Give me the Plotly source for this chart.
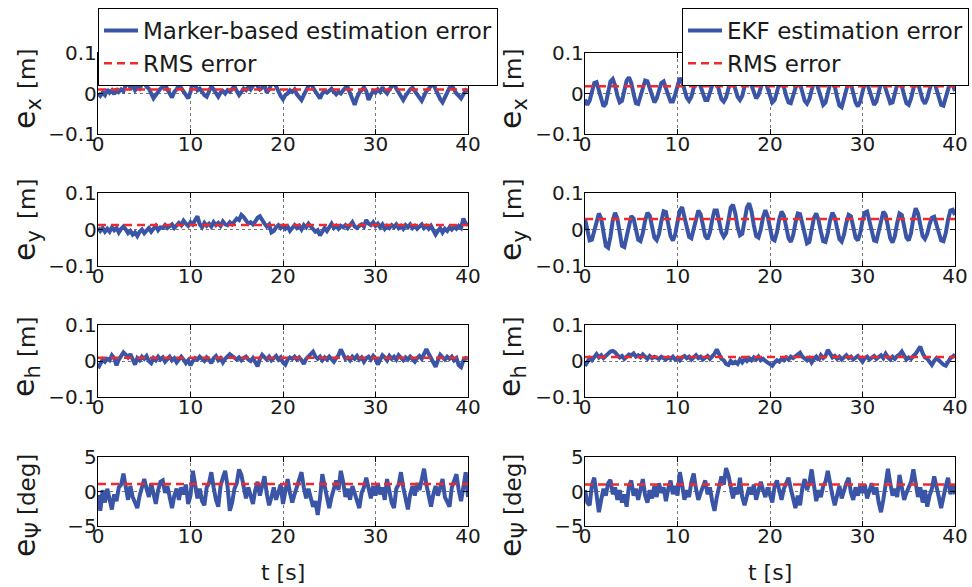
import plotly.graph_objects as go
from plotly.subplots import make_subplots

# time axis [s], sampled every 0.25 s
t = [i * 0.25 for i in range(161)]

# ---------------- Marker-based estimation errors ----------------
ex_marker = [
    0.000, -0.006, 0.002, -0.004, 0.010, 0.002, 0.008, -0.002,
    0.012, 0.004, 0.010, 0.006, 0.020, 0.026, 0.014, 0.018,
    0.008, 0.016, 0.012, 0.024, 0.030, 0.016, 0.012, 0.002,
    -0.012, -0.004, 0.006, 0.012, 0.016, 0.022, 0.010, -0.002,
    -0.010, 0.004, 0.010, 0.022, 0.014, 0.006, -0.004, -0.012,
    0.004, 0.030, 0.020, 0.008, 0.012, 0.002, -0.004, -0.008,
    0.006, 0.018, 0.010, 0.002, -0.008, 0.002, 0.006, 0.000,
    0.008, 0.004, 0.012, 0.018, 0.006, -0.004, 0.004, 0.012,
    0.008, 0.016, 0.010, 0.020, 0.028, 0.018, 0.010, 0.014,
    0.020, 0.002, 0.010, 0.024, 0.030, 0.018, 0.004, -0.006,
    -0.014, -0.004, 0.000, 0.008, 0.004, 0.010, -0.002, -0.010,
    -0.016, -0.004, 0.008, 0.016, 0.030, 0.014, 0.006, -0.004,
    -0.012, 0.000, 0.006, 0.002, 0.008, 0.012, 0.004, -0.002,
    0.004, 0.000, 0.008, 0.014, 0.015, 0.002, -0.014, -0.028,
    -0.010, 0.002, 0.008, 0.015, 0.006, -0.016, -0.004, 0.006,
    0.002, 0.010, 0.004, 0.015, 0.006, 0.000, 0.010, 0.018,
    0.025, 0.012, 0.002, -0.008, -0.016, -0.006, 0.004, 0.010,
    0.014, 0.006, -0.004, -0.010, -0.018, -0.006, 0.006, 0.012,
    0.020, 0.025, 0.010, -0.004, -0.014, -0.022, -0.008, 0.006,
    0.014, 0.020, 0.008, 0.000, -0.006, -0.012, -0.002, 0.008,
    0.005,
]
ey_marker = [
    0.005, -0.004, 0.004, -0.006, 0.002, -0.006, 0.006, -0.002,
    0.004, -0.008, 0.002, 0.008, 0.000, -0.010, -0.004, -0.014,
    -0.008, -0.018, -0.006, 0.000, -0.010, -0.004, 0.004, -0.006,
    0.002, 0.010, -0.002, 0.006, 0.004, 0.012, 0.004, 0.008,
    0.014, 0.004, 0.010, 0.018, 0.012, 0.024, 0.016, 0.010,
    0.020, 0.014, 0.026, 0.036, 0.014, 0.006, 0.018, 0.010,
    0.016, 0.008, 0.020, 0.012, 0.018, 0.010, 0.022, 0.014,
    0.012, 0.020, 0.014, 0.024, 0.030, 0.026, 0.040, 0.034,
    0.024, 0.016, 0.020, 0.014, 0.022, 0.032, 0.036, 0.024,
    0.016, 0.008, 0.014, -0.008, -0.004, 0.006, 0.012, 0.004,
    0.010, 0.002, 0.008, -0.004, 0.006, 0.012, 0.004, 0.010,
    0.000, 0.012, 0.006, 0.016, 0.008, 0.002, -0.006, -0.002,
    -0.016, -0.006, 0.004, -0.004, 0.008, 0.016, 0.004, 0.010,
    0.002, 0.010, 0.006, 0.012, 0.004, 0.012, 0.020, 0.008,
    0.004, 0.010, 0.014, 0.008, 0.026, 0.016, 0.012, 0.020,
    0.010, 0.016, 0.006, 0.014, 0.002, 0.010, 0.004, 0.012,
    0.006, 0.014, 0.004, 0.010, 0.002, 0.012, 0.006, 0.014,
    0.004, 0.010, 0.002, 0.008, 0.014, 0.004, 0.010, 0.002,
    0.010, -0.002, -0.014, -0.004, 0.004, -0.008, 0.002, -0.004,
    0.006, 0.000, 0.008, 0.002, 0.010, 0.004, 0.030, 0.016,
    0.012,
]
eh_marker = [
    -0.020, -0.006, 0.004, -0.002, 0.006, 0.002, 0.016, 0.008,
    -0.012, 0.004, 0.014, 0.024, 0.018, 0.010, 0.019, 0.006,
    -0.010, 0.008, 0.002, 0.012, 0.006, 0.014, 0.000, -0.006,
    0.008, 0.002, 0.012, 0.004, 0.010, -0.002, 0.006, 0.012,
    0.002, 0.008, -0.004, 0.006, 0.012, 0.004, -0.006, 0.002,
    -0.012, 0.000, 0.008, 0.004, 0.012, 0.006, 0.000, 0.010,
    0.004, -0.006, 0.008, 0.014, 0.002, 0.008, -0.004, 0.006,
    0.012, 0.019, 0.014, 0.008, 0.004, 0.010, 0.002, 0.008,
    0.012, 0.004, 0.000, 0.008, -0.004, -0.015, 0.006, 0.017,
    0.010, 0.004, 0.012, 0.002, 0.008, 0.014, 0.004, 0.010,
    -0.004, -0.010, 0.004, 0.010, 0.006, 0.012, 0.004, 0.010,
    0.002, -0.008, 0.006, 0.012, 0.018, 0.026, 0.012, 0.006,
    0.012, 0.002, 0.010, 0.004, 0.012, 0.006, -0.002, 0.008,
    0.016, 0.032, 0.018, 0.006, 0.010, 0.002, 0.012, 0.006,
    0.014, 0.004, 0.010, -0.002, 0.008, 0.012, 0.004, 0.014,
    0.006, -0.010, 0.004, 0.016, 0.010, 0.002, 0.014, 0.006,
    0.012, 0.004, 0.016, 0.008, 0.002, 0.010, 0.004, 0.012,
    0.006, -0.002, 0.008, 0.014, 0.006, 0.018, 0.033, 0.020,
    0.008, -0.006, -0.016, 0.002, 0.017, 0.010, 0.004, 0.012,
    0.006, 0.012, 0.002, 0.008, -0.012, -0.017, 0.002, 0.008,
    0.006,
]
epsi_marker = [
    -0.5, -2.8, 0.2, -1.6, 0.4, -1.2, -2.6, -0.4,
    -1.4, 0.6, 1.0, 2.6, 0.2, -1.2, 0.8, -0.8,
    -1.6, -2.4, -0.6, 0.8, 1.8, 0.4, -0.8, 1.2,
    -0.4, -1.8, 0.2, 1.4, 1.6, -0.2, 0.8, -1.0,
    -2.4, -0.6, 0.4, -1.2, 0.6, -0.4, 1.0, -1.8,
    -0.6, 3.0, 0.8, -1.0, 0.4, -1.4, -2.0, 0.6,
    1.2, 2.8, 0.6, -1.2, -2.2, 0.8, 2.0, 3.0,
    0.8, -2.8, -1.6, 0.4, 1.2, 3.2, 2.4, 0.4,
    -1.0, 0.6, -0.8, -1.8, 0.2, 1.4, -0.6, 0.8,
    2.2, -0.4, -2.0, -0.8, 0.6, -1.2, 0.2, 1.0,
    -1.8, 0.4, 1.8, -0.2, -1.6, -0.4, 0.8, 1.6,
    2.8, 0.6, -1.0, 0.4, -0.8, -2.2, -1.4, -3.4,
    -1.0, 2.5, 0.8, -0.6, -2.4, -0.8, 0.6, 1.6,
    0.2, 3.0, 1.4, -0.8, 0.4, -1.2, 0.8, -0.4,
    -1.6, -2.4, -0.2, 0.6, 2.0, 0.2, -1.0, 0.8,
    -0.6, 1.2, -0.4, 0.6, -1.2, 1.8, 0.2, -1.6,
    -2.4, 0.4, 1.0, 2.8, 0.6, -1.0, -2.6, -0.4,
    0.8, -0.6, 1.2, 0.2, 1.6, 3.3, 1.0, -0.8,
    -2.2, -0.4, 0.8, -0.6, 0.4, 1.8, -0.8, -1.6,
    -2.2, 0.6, 1.4, 2.5, 0.2, -1.4, 0.6, 2.8,
    -0.8,
]

# ---------------- EKF estimation errors ----------------
ex_ekf = [
    -0.015, -0.028, -0.018, 0.005, 0.026, 0.028, 0.010, -0.015,
    -0.032, -0.025, -0.002, 0.030, 0.036, 0.020, -0.005, -0.022,
    -0.018, 0.008, 0.032, 0.040, 0.026, 0.000, -0.024, -0.026,
    -0.008, 0.016, 0.032, 0.030, 0.012, -0.012, -0.022, -0.012,
    0.010, 0.026, 0.030, 0.016, -0.004, -0.020, -0.020, -0.002,
    0.020, 0.038, 0.030, 0.010, -0.010, -0.018, -0.008, 0.014,
    0.032, 0.034, 0.018, -0.004, -0.016, -0.016, 0.002, 0.026,
    0.038, 0.028, 0.006, -0.014, -0.020, -0.010, 0.012, 0.034,
    0.030, 0.012, -0.008, -0.016, -0.006, 0.018, 0.038, 0.036,
    0.018, -0.002, -0.012, -0.004, 0.016, 0.032, 0.030, 0.010,
    -0.010, -0.022, -0.016, 0.004, 0.024, 0.030, 0.016, -0.006,
    -0.022, -0.024, -0.006, 0.018, 0.032, 0.024, 0.002, -0.018,
    -0.025, -0.014, 0.008, 0.028, 0.028, 0.010, -0.012, -0.028,
    -0.022, 0.000, 0.024, 0.032, 0.018, -0.008, -0.030, -0.034,
    -0.014, 0.012, 0.030, 0.024, 0.002, -0.022, -0.032, -0.020,
    0.004, 0.026, 0.026, 0.006, -0.016, -0.028, -0.020, 0.004,
    0.026, 0.030, 0.012, -0.010, -0.024, -0.022, -0.002, 0.022,
    0.030, 0.018, -0.004, -0.024, -0.028, -0.012, 0.012, 0.030,
    0.026, 0.006, -0.016, -0.025, -0.012, 0.010, 0.028, 0.030,
    0.012, -0.012, -0.028, -0.030, -0.012, 0.012, 0.030, 0.022,
    0.006,
]
ey_ekf = [
    0.030, 0.000, -0.030, -0.028, -0.005, 0.028, 0.044, 0.030,
    -0.010, -0.045, -0.050, -0.020, 0.025, 0.046, 0.030, -0.010,
    -0.045, -0.048, -0.020, 0.020, 0.037, 0.030, 0.000, -0.028,
    -0.032, -0.010, 0.025, 0.046, 0.038, 0.008, -0.022, -0.029,
    -0.012, 0.022, 0.050, 0.048, 0.016, -0.018, -0.030, -0.014,
    0.020, 0.052, 0.061, 0.036, 0.004, -0.020, -0.024, 0.000,
    0.034, 0.052, 0.042, 0.010, -0.018, -0.026, -0.008, 0.026,
    0.052, 0.052, 0.024, -0.008, -0.020, -0.010, 0.024, 0.060,
    0.068, 0.044, 0.006, -0.016, -0.012, 0.020, 0.060, 0.072,
    0.050, 0.012, -0.018, -0.022, 0.000, 0.034, 0.053, 0.036,
    0.002, -0.026, -0.030, -0.008, 0.028, 0.049, 0.038, 0.006,
    -0.024, -0.034, -0.016, 0.018, 0.044, 0.042, 0.014, -0.018,
    -0.038, -0.034, -0.004, 0.032, 0.044, 0.026, -0.006, -0.032,
    -0.034, -0.010, 0.026, 0.046, 0.034, 0.002, -0.026, -0.033,
    -0.014, 0.018, 0.040, 0.036, 0.008, -0.022, -0.030, -0.010,
    0.024, 0.046, 0.049, 0.024, -0.008, -0.030, -0.032, -0.006,
    0.030, 0.049, 0.040, 0.008, -0.024, -0.036, -0.018, 0.018,
    0.044, 0.040, 0.010, -0.022, -0.030, -0.010, 0.032, 0.058,
    0.044, 0.008, -0.018, -0.026, -0.012, 0.014, 0.032, 0.035,
    0.014, -0.014, -0.030, -0.032, -0.010, 0.026, 0.052, 0.054,
    0.040,
]
eh_ekf = [
    -0.014, -0.004, 0.008, 0.002, 0.012, 0.019, 0.010, 0.016,
    0.008, 0.014, 0.020, 0.026, 0.028, 0.024, 0.016, 0.010,
    0.014, 0.006, 0.012, 0.018, 0.016, 0.021, 0.012, 0.016,
    0.010, 0.018, 0.012, 0.006, 0.014, 0.008, 0.012, 0.010,
    0.006, 0.012, 0.008, 0.004, 0.010, 0.006, 0.012, 0.004,
    0.008, 0.002, 0.010, 0.014, 0.008, 0.012, 0.004, 0.010,
    0.016, 0.008, 0.012, 0.004, 0.010, 0.014, 0.006, 0.012,
    0.020, 0.032, 0.018, 0.006, 0.002, -0.008, -0.011, 0.000,
    -0.006, -0.002, -0.008, 0.004, -0.004, 0.006, 0.000, 0.008,
    0.002, 0.010, 0.004, 0.012, 0.002, 0.006, 0.000, -0.004,
    -0.008, -0.013, -0.004, 0.002, -0.002, 0.006, 0.002, 0.010,
    0.004, 0.012, 0.008, 0.014, 0.020, 0.023, 0.012, 0.008,
    0.002, 0.008, -0.004, 0.006, 0.012, 0.002, 0.016, 0.008,
    0.014, 0.031, 0.020, 0.010, 0.014, 0.006, 0.012, 0.004,
    0.010, 0.016, 0.008, 0.012, 0.004, 0.010, 0.014, 0.006,
    -0.002, 0.008, 0.012, 0.004, 0.010, 0.014, 0.006, 0.012,
    0.016, 0.008, 0.020, 0.010, 0.004, 0.012, 0.006, 0.014,
    0.018, 0.026, 0.012, 0.004, 0.010, 0.006, 0.014, 0.020,
    0.030, 0.040, 0.022, 0.010, 0.006, -0.004, -0.011, 0.000,
    0.008, 0.002, -0.006, -0.010, -0.013, -0.002, 0.008, 0.012,
    0.018,
]
epsi_ekf = [
    0.2, -1.6, -2.0, 1.0, 2.0, -0.8, -3.0, -1.2,
    0.4, -0.6, 1.2, 1.7, -0.4, 0.6, -1.2, 0.2,
    -1.6, -0.4, -2.2, 0.8, 1.6, -0.6, 0.4, -1.2,
    0.6, 1.8, -0.6, -1.6, 0.2, -1.0, 0.8, -0.8,
    1.2, -0.2, 0.6, -1.4, 0.4, 1.6, -0.4, 0.8,
    -0.6, 2.8, 1.0, -1.2, 0.2, -0.8, 1.4, 2.6,
    0.4, -1.2, -0.2, 0.8, 1.6, -0.4, 0.6, -1.4,
    -2.8, -0.8, 0.6, 2.2, 1.0, 3.4, 2.4, 0.4,
    -1.0, 0.6, -0.4, 2.0, -0.8, -2.0, -0.6, 0.6,
    -0.4, 1.0, -1.2, 0.4, 1.4, 0.2, -0.8, 0.6,
    -0.4, -1.6, 0.8, 1.6, 0.2, -1.2, 0.4, 1.4,
    2.0, 0.4, -1.2, -2.4, -0.6, -2.0, 0.6, 1.8,
    0.2, 1.2, 3.2, 0.6, -1.4, 0.2, -0.8, 0.8,
    1.4, 3.0, 0.8, -0.6, -2.0, -0.4, 0.8, -1.0,
    0.4, 1.2, 2.0, -0.2, -1.2, 0.6, -0.6, 0.8,
    -0.2, 1.0, -1.0, 0.4, 1.2, -0.4, 0.6, -1.6,
    -3.0, -1.2, 0.8, 3.3, 1.2, -0.6, 0.4, -0.8,
    2.4, 0.8, -1.2, -0.2, 0.6, 1.4, 3.2, 0.8,
    -0.8, 0.6, -1.6, 0.2, -2.2, -0.6, 0.4, 2.2,
    0.4, -0.8, -2.4, -0.6, 0.8, 2.0, -0.4, 1.0,
    -0.4,
]

# RMS errors
rms_marker = [0.010, 0.012, 0.009, 1.1]
rms_ekf = [0.018, 0.029, 0.011, 1.0]

# axis settings
t_range = [0, 40]
t_ticks = [0, 10, 20, 30, 40]
y_ranges = [[-0.1, 0.1], [-0.1, 0.1], [-0.1, 0.1], [-5, 5]]
y_ticks = [[-0.1, 0, 0.1], [-0.1, 0, 0.1], [-0.1, 0, 0.1], [-5, 0, 5]]
y_syms = ["x", "y", "h", "Ψ"]
y_units = ["[m]", "[m]", "[m]", "[deg]"]
x_label = "t [s]"
legend_names = [["Marker-based estimation error", "RMS error"],
                ["EKF estimation error", "RMS error"]]

W, H = 972, 587
FONT = "DejaVu Sans"
BLUE = "#3b55a6"
RED = "#ee2a2e"
TXT = "#1a1a1a"

col_px = [(98, 468), (585, 955)]
row_px = [(53, 134), (193, 266), (325, 397), (457, 526)]
# vertical centres (px) of the two parts of each y label
unit_cy = [69, 199, 337, 485]
sym_cy = [114, 246, 381, 540]
label_cx = [26, 512]

series = [[ex_marker, ex_ekf], [ey_marker, ey_ekf], [eh_marker, eh_ekf], [epsi_marker, epsi_ekf]]
rms = [rms_marker, rms_ekf]

fig = make_subplots(rows=4, cols=2)

for r in range(4):
    for c in range(2):
        show = (r == 0)
        leg = "legend" if c == 0 else "legend2"
        fig.add_trace(go.Scatter(
            x=t, y=series[r][c], mode="lines",
            line=dict(color=BLUE, width=4),
            name=legend_names[c][0], showlegend=show, legend=leg,
            legendgroup=f"a{c}",
        ), row=r + 1, col=c + 1)
        fig.add_trace(go.Scatter(
            x=t_range, y=[rms[c][r], rms[c][r]], mode="lines",
            line=dict(color=RED, width=2.5, dash="8px,5px"),
            name=legend_names[c][1], showlegend=show, legend=leg,
            legendgroup=f"b{c}",
        ), row=r + 1, col=c + 1)

axis_common = dict(
    showline=True, linecolor="black", linewidth=1.3, mirror="allticks",
    ticks="inside", ticklen=5, tickcolor="black", tickwidth=1,
    showgrid=True, gridcolor="#777", griddash="dot", gridwidth=1,
    zeroline=False, tickfont=dict(family=FONT, size=20, color=TXT),
)

for r in range(4):
    for c in range(2):
        idx = r * 2 + c + 1
        xa = "xaxis" if idx == 1 else f"xaxis{idx}"
        ya = "yaxis" if idx == 1 else f"yaxis{idx}"
        x0, x1 = col_px[c]
        y0, y1 = row_px[r]
        fig.layout[xa].update(domain=[x0 / W, x1 / W], range=t_range, tickvals=t_ticks,
                              ticklabelstandoff=-8, **axis_common)
        fig.layout[ya].update(domain=[1 - y1 / H, 1 - y0 / H], range=y_ranges[r],
                              tickvals=y_ticks[r], ticklabelstandoff=-4, **axis_common)
        # y label: symbol part and unit part
        fig.add_annotation(text=f"e<sub>{y_syms[r]}</sub>",
                           x=label_cx[c] / W, y=1 - sym_cy[r] / H,
                           xref="paper", yref="paper", textangle=-90, showarrow=False,
                           xanchor="center", yanchor="middle",
                           font=dict(family=FONT, size=30, color=TXT))
        fig.add_annotation(text=y_units[r],
                           x=(label_cx[c] + 1) / W, y=1 - unit_cy[r] / H,
                           xref="paper", yref="paper", textangle=-90, showarrow=False,
                           xanchor="center", yanchor="middle",
                           font=dict(family=FONT, size=23, color=TXT))

for c in range(2):
    x0, x1 = col_px[c]
    fig.add_annotation(text=x_label, x=(x0 + x1) / 2 / W, y=1 - 572 / H,
                       xref="paper", yref="paper", showarrow=False,
                       xanchor="center", yanchor="middle",
                       font=dict(family=FONT, size=22, color=TXT))

legend_common = dict(
    bgcolor="white", bordercolor="black", borderwidth=1,
    font=dict(family=FONT, size=23, color=TXT),
    traceorder="grouped", tracegroupgap=0, itemwidth=34,
    xanchor="left", yanchor="top",
)

fig.update_layout(
    width=W, height=H,
    margin=dict(l=0, r=0, t=0, b=0, autoexpand=False),
    plot_bgcolor="white", paper_bgcolor="white",
    legend=dict(x=98 / W, y=1 - 8 / H, **legend_common),
    legend2=dict(x=682 / W, y=1 - 8 / H, **legend_common),
)

fig.write_html("out.html", config={"displayModeBar": False},
               post_script="document.body.style.margin='0';")
